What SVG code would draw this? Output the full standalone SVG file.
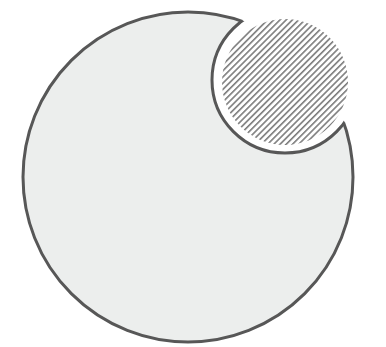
<svg xmlns="http://www.w3.org/2000/svg" width="386" height="347" viewBox="0 0 386 347">
  <style>
    .outline { stroke: #575757; stroke-width: 3; }
  </style>
  <defs>
    <pattern id="hatch" patternUnits="userSpaceOnUse" width="4.4" height="20" patternTransform="rotate(45)">
      <rect x="0" y="0" width="1.6" height="20" fill="#7c7c7c"/>
    </pattern>
    <clipPath id="inBig">
      <circle cx="188" cy="177" r="166"/>
    </clipPath>
  </defs>
  <rect width="386" height="347" fill="#ffffff"/>
  <g id="big-circle">
    <circle cx="188" cy="177" r="165" fill="#eceeed" class="outline"/>
  </g>
  <g id="small-circle">
    <circle cx="285" cy="80" r="73" fill="#ffffff"/>
    <circle cx="285" cy="82" r="63" fill="url(#hatch)"/>
    <circle cx="285" cy="80" r="73" fill="none" class="outline" clip-path="url(#inBig)"/>
  </g>
</svg>
